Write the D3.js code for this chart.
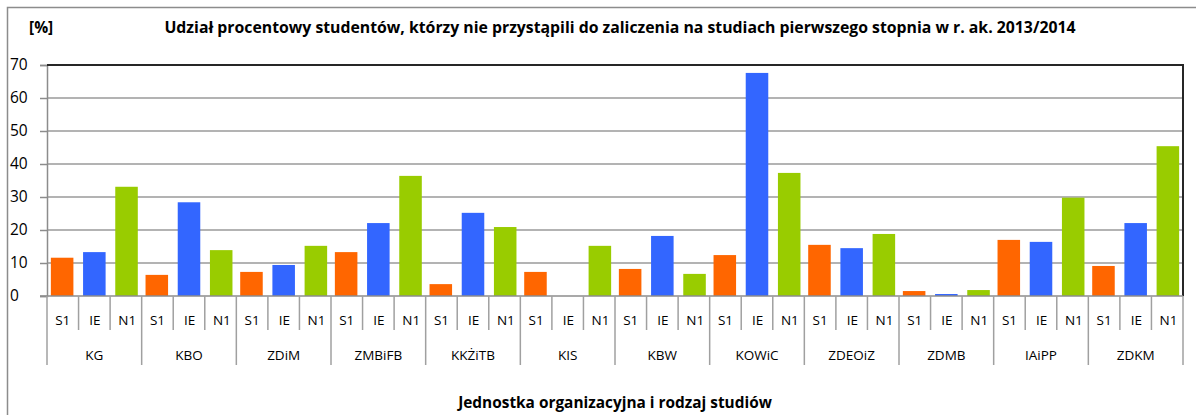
<!DOCTYPE html>
<html>
<head>
<meta charset="utf-8">
<script src="https://cdn.jsdelivr.net/npm/d3@7"></script>
<style>
  body { margin: 0; background: #fff; }
  text { font-family: "Open Sans", "Noto Sans", sans-serif; fill: #000; }
</style>
</head>
<body>
<div id="chart"></div>
<script>
// data
var units = ['KG', 'KBO', 'ZDiM', 'ZMBiFB', 'KKŻiTB', 'KIS', 'KBW', 'KOWiC', 'ZDEOiZ', 'ZDMB', 'IAiPP', 'ZDKM'];
var types = ['S1', 'IE', 'N1'];
var s1 = [11.6, 6.4, 7.3, 13.3, 3.6, 7.3, 8.2, 12.4, 15.5, 1.5, 17.0, 9.1];
var ie = [13.3, 28.4, 9.4, 22.1, 25.2, 0, 18.2, 67.6, 14.5, 0.6, 16.4, 22.1];
var n1 = [33.1, 13.9, 15.2, 36.4, 20.9, 15.2, 6.7, 37.3, 18.8, 1.8, 29.8, 45.4];
var yTicks = [0, 10, 20, 30, 40, 50, 60, 70];
var colors = {S1: '#FF6600', IE: '#3366FF', N1: '#99CC00'};

var width = 1196, height = 415;
var margin = ({top: 65, right: 13, bottom: 119, left: 47});

var rows = [];
units.forEach(function(u, i) {
  rows.push({unit: u, type: 'S1', value: s1[i]});
  rows.push({unit: u, type: 'IE', value: ie[i]});
  rows.push({unit: u, type: 'N1', value: n1[i]});
});

var svg = d3.select('#chart')
  .append('svg')
    .attr('width', width)
    .attr('height', height);

// outer chart frame
svg.append('path')
  .attr('d', 'M7.5,' + height + 'V7.5H' + width)
  .attr('fill', 'none')
  .attr('stroke', '#8c8c8c')
  .attr('stroke-width', 1.5);

var x = d3.scaleBand()
  .domain(units)
  .range([margin.left, width - margin.right]);

var xInner = d3.scaleBand()
  .domain(types)
  .range([0, x.bandwidth()])
  .paddingInner(0.3)
  .paddingOuter(0.12);

var y = d3.scaleLinear()
  .domain([0, 70])
  .range([height - margin.bottom, margin.top]);

var y0 = y(0);

// gridlines
svg.append('g')
  .selectAll('line')
  .data(yTicks.slice(1, -1))
  .join('line')
    .attr('x1', margin.left)
    .attr('x2', width - margin.right)
    .attr('y1', d => y(d))
    .attr('y2', d => y(d))
    .attr('stroke', '#9a9a9a')
    .attr('stroke-width', 1.5);

// y axis
var yAxis = svg.append('g')
  .attr('transform', `translate(${margin.left}, 0)`)
  .call(d3.axisLeft(y).tickValues(yTicks).tickSize(7).tickPadding(14));
yAxis.select('.domain').attr('stroke', '#8c8c8c').attr('stroke-width', 1.5);
yAxis.selectAll('.tick line').attr('stroke', '#8c8c8c').attr('stroke-width', 1.5);
yAxis.selectAll('.tick text')
  .attr('font-size', 15.5)
  .attr('text-anchor', 'start')
  .attr('x', 10 - margin.left)
  .style('font-family', '"Open Sans", sans-serif');

// bars
svg.append('g')
  .selectAll('rect')
  .data(rows)
  .join('rect')
    .attr('x', d => x(d.unit) + xInner(d.type))
    .attr('y', d => y(d.value))
    .attr('width', xInner.bandwidth())
    .attr('height', d => y0 - y(d.value))
    .attr('fill', d => colors[d.type]);

// plot border top/right
svg.append('path')
  .attr('d', `M${margin.left},${margin.top}H${width - margin.right}V${y0}`)
  .attr('fill', 'none')
  .attr('stroke', '#262626')
  .attr('stroke-width', 2);

// x axis base line
svg.append('line')
  .attr('x1', margin.left - 7)
  .attr('x2', width - margin.right)
  .attr('y1', y0)
  .attr('y2', y0)
  .attr('stroke', '#8c8c8c')
  .attr('stroke-width', 1.5);

// category separators
var step = x.bandwidth() / 3;
var seps = [];
units.forEach(function(u, i) {
  seps.push({x: x(u), group: true});
  seps.push({x: x(u) + step, group: false});
  seps.push({x: x(u) + 2 * step, group: false});
});
seps.push({x: width - margin.right, group: true});

svg.append('g')
  .selectAll('line')
  .data(seps)
  .join('line')
    .attr('x1', d => d.x)
    .attr('x2', d => d.x)
    .attr('y1', y0)
    .attr('y2', d => d.group ? y0 + 69 : y0 + 34)
    .attr('stroke', '#a0a0a0')
    .attr('stroke-width', 1.5);

// type labels
svg.append('g')
  .selectAll('text')
  .data(rows)
  .join('text')
    .attr('x', d => x(d.unit) + xInner.step() * types.indexOf(d.type) + step / 2)
    .attr('y', y0 + 29)
    .attr('text-anchor', 'middle')
    .attr('font-size', 13.5)
    .text(d => d.type);

// unit labels
svg.append('g')
  .selectAll('text')
  .data(units)
  .join('text')
    .attr('x', d => x(d) + x.bandwidth() / 2)
    .attr('y', y0 + 64)
    .attr('text-anchor', 'middle')
    .attr('font-size', 13.5)
    .text(d => d);

// titles
svg.append('text')
  .attr('x', 620)
  .attr('y', 33)
  .attr('text-anchor', 'middle')
  .attr('font-size', 15.8)
  .attr('font-weight', 'bold')
  .text('Udział procentowy studentów, którzy nie przystąpili do zaliczenia na studiach pierwszego stopnia w r. ak. 2013/2014');

svg.append('text')
  .attr('x', 29)
  .attr('y', 33)
  .attr('font-size', 15.5)
  .attr('font-weight', 'bold')
  .text('[%]');

svg.append('text')
  .attr('x', 615)
  .attr('y', 408)
  .attr('text-anchor', 'middle')
  .attr('font-size', 15.4)
  .attr('font-weight', 'bold')
  .text('Jednostka organizacyjna i rodzaj studiów');
</script>
</body>
</html>
